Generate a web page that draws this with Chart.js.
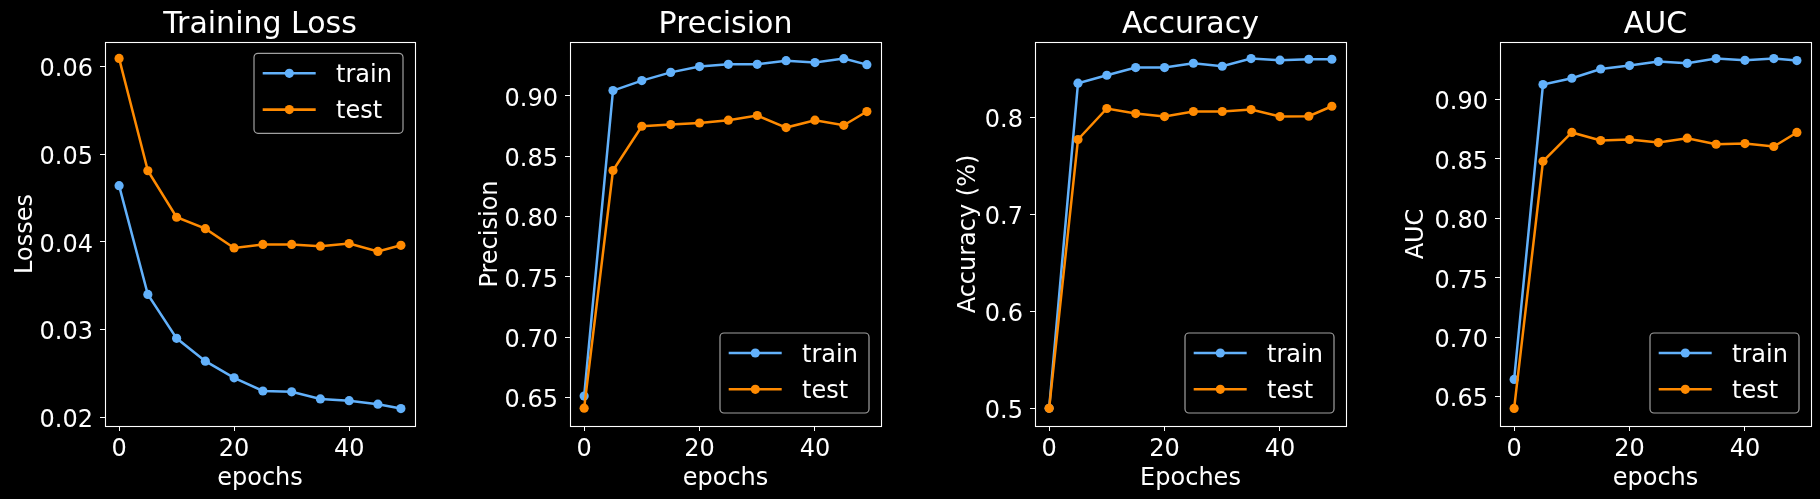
<!DOCTYPE html>
<html>
<head>
<meta charset="utf-8">
<title>Training metrics</title>
<script src="https://cdn.jsdelivr.net/npm/chart.js@4.4.0/dist/chart.umd.min.js"></script>
<style>
  html, body { margin: 0; padding: 0; background: #000; }
  #figura { position: relative; width: 1820px; height: 499px; overflow: hidden; background: #000; }
  #figura canvas { position: absolute; top: 0; }
</style>
</head>
<body>
<div id="figura">
  <canvas id="loss" width="455" height="499" style="left:0px"></canvas>
  <canvas id="precision" width="455" height="499" style="left:455px"></canvas>
  <canvas id="accuracy" width="455" height="499" style="left:910px"></canvas>
  <canvas id="auc" width="455" height="499" style="left:1365px"></canvas>
</div>
<script>
// valores
const epochs = [0, 5, 10, 15, 20, 25, 30, 35, 40, 45, 49];

const lossTrain = [0.0464, 0.0340, 0.0290, 0.0264, 0.0245, 0.0230, 0.0229, 0.0221, 0.0219, 0.0215, 0.0210];
const lossTest = [0.0609, 0.0481, 0.0428, 0.0415, 0.0393, 0.0397, 0.0397, 0.0395, 0.0398, 0.0389, 0.0396];

const precisionTrain = [0.651, 0.9045, 0.9128, 0.9196, 0.9244, 0.9263, 0.9263, 0.9293, 0.9277, 0.9310, 0.9260];
const precisionTest = [0.641, 0.8382, 0.8749, 0.8763, 0.8776, 0.8799, 0.8838, 0.8738, 0.8799, 0.8757, 0.8871];

const accuracyTrain = [0.500, 0.8354, 0.8436, 0.8515, 0.8515, 0.8560, 0.8529, 0.8608, 0.8591, 0.8601, 0.8601];
const accuracyTest = [0.500, 0.7773, 0.8093, 0.8041, 0.8010, 0.8062, 0.8062, 0.8082, 0.8010, 0.8013, 0.8116];

const aucTrain = [0.6646, 0.9126, 0.9179, 0.9257, 0.9286, 0.9320, 0.9305, 0.9345, 0.9330, 0.9345, 0.9328];
const aucTest = [0.6402, 0.8481, 0.8723, 0.8655, 0.8664, 0.8638, 0.8675, 0.8624, 0.8630, 0.8605, 0.8723];

const epochTicks = [0, 20, 40];
const lossTicks = [0.02, 0.03, 0.04, 0.05, 0.06];
const precisionTicks = [0.65, 0.70, 0.75, 0.80, 0.85, 0.90];
const accuracyTicks = [0.5, 0.6, 0.7, 0.8];
const aucTicks = [0.65, 0.70, 0.75, 0.80, 0.85, 0.90];

const seriesLabels = ['train', 'test'];

// cores e fonte
const COR_TRAIN = '#62b1fb';
const COR_TEST = '#ff8a00';
const FONTE = "'DejaVu Sans', sans-serif";

Chart.defaults.font.family = FONTE;
Chart.defaults.color = '#ffffff';

// moldura (spines) + legenda no estilo matplotlib
const molduraLegenda = {
  id: 'molduraLegenda',
  afterDatasetsDraw(chart, args, opts) {
    const { ctx, chartArea: a } = chart;
    ctx.save();
    ctx.strokeStyle = '#ffffff';
    ctx.lineWidth = 1.1;
    ctx.strokeRect(a.left + 0.5, a.top + 0.5, a.right - a.left, a.bottom - a.top);

    const w = 149, h = 80;
    const x = a.right - 12 - w;
    const y = opts.position === 'upper right' ? a.top + 11.3 : a.bottom - 13 - h;

    ctx.beginPath();
    ctx.roundRect(x, y, w, h, 4);
    ctx.fillStyle = 'rgba(0,0,0,0.8)';
    ctx.fill();
    ctx.strokeStyle = '#a0a0a0';
    ctx.lineWidth = 1.2;
    ctx.stroke();

    chart.data.datasets.forEach((ds, i) => {
      const cy = y + 20 + i * 36.3;
      ctx.strokeStyle = ds.borderColor;
      ctx.lineWidth = 2.6;
      ctx.beginPath();
      ctx.moveTo(x + 8.7, cy);
      ctx.lineTo(x + 61.7, cy);
      ctx.stroke();
      ctx.fillStyle = ds.borderColor;
      ctx.beginPath();
      ctx.arc(x + 35.3, cy, 4.6, 0, Math.PI * 2);
      ctx.fill();
      ctx.fillStyle = '#ffffff';
      ctx.font = '24px ' + FONTE;
      ctx.textAlign = 'left';
      ctx.textBaseline = 'alphabetic';
      ctx.fillText(ds.label, x + 82, cy + 8.8);
    });
    ctx.restore();
  }
};

function serie(label, valores, cor, ordem) {
  return {
    label: label,
    data: epochs.map((e, i) => ({ x: e, y: valores[i] })),
    borderColor: cor,
    backgroundColor: cor,
    borderWidth: 2.5,
    pointRadius: 4.6,
    pointBorderWidth: 0,
    pointBackgroundColor: cor,
    tension: 0,
    order: ordem
  };
}

function criarGrafico(p) {
  const canvas = document.getElementById(p.canvasId);
  return new Chart(canvas.getContext('2d'), {
    type: 'line',
    data: {
      datasets: [
        serie(seriesLabels[0], p.train, COR_TRAIN, 1),
        serie(seriesLabels[1], p.test, COR_TEST, 0)
      ]
    },
    options: {
      responsive: false,
      animation: false,
      events: [],
      layout: { padding: { left: 0, right: p.padRight, top: 0, bottom: 0 } },
      plugins: {
        legend: { display: false },
        tooltip: { enabled: false },
        title: {
          display: true,
          text: p.title,
          color: '#ffffff',
          fullSize: false,
          font: { size: 30, weight: 'normal', lineHeight: 1.1 },
          padding: { top: 9, bottom: 0 }
        },
        molduraLegenda: { position: p.legend }
      },
      scales: {
        x: {
          type: 'linear',
          min: -2.45,
          max: 51.45,
          afterBuildTicks: s => { s.ticks = epochTicks.map(v => ({ value: v })); },
          afterFit: s => { s.height = 73; },
          border: { display: false },
          grid: { drawOnChartArea: false, drawTicks: true, tickLength: 5, tickWidth: 1, color: '#ffffff' },
          ticks: { color: '#ffffff', font: { size: 24 }, padding: 3.9, autoSkip: false, maxRotation: 0, callback: v => String(v) },
          title: { display: true, text: p.xLabel, color: '#ffffff', font: { size: 24 }, padding: { top: 0, bottom: 6.3 } }
        },
        y: {
          type: 'linear',
          min: p.yMin,
          max: p.yMax,
          afterBuildTicks: s => { s.ticks = p.yTicks.map(v => ({ value: v })); },
          afterFit: s => { s.width = p.yAxisWidth; },
          border: { display: false },
          grid: { drawOnChartArea: false, drawTicks: true, tickLength: 5, tickWidth: 1, color: '#ffffff' },
          ticks: { color: '#ffffff', font: { size: 24 }, padding: 7, labelOffset: 3.5, autoSkip: false, callback: v => v.toFixed(p.decimals) },
          title: { display: true, text: p.yLabel, color: '#ffffff', font: { size: 24 }, padding: { top: p.yTitlePad, bottom: 0 } }
        }
      }
    },
    plugins: [molduraLegenda]
  });
}

const paineis = [
  { canvasId: 'loss', title: 'Training Loss', xLabel: 'epochs', yLabel: 'Losses',
    train: lossTrain, test: lossTest, yTicks: lossTicks, decimals: 2,
    yMin: 0.01901, yMax: 0.06277, legend: 'upper right',
    yAxisWidth: 105, yTitlePad: 11.4, padRight: 40 },
  { canvasId: 'precision', title: 'Precision', xLabel: 'epochs', yLabel: 'Precision',
    train: precisionTrain, test: precisionTest, yTicks: precisionTicks, decimals: 2,
    yMin: 0.6262, yMax: 0.9448, legend: 'lower right',
    yAxisWidth: 115, yTitlePad: 21.4, padRight: 29 },
  { canvasId: 'accuracy', title: 'Accuracy', xLabel: 'Epoches', yLabel: 'Accuracy (%)',
    train: accuracyTrain, test: accuracyTest, yTicks: accuracyTicks, decimals: 1,
    yMin: 0.48175, yMax: 0.8779, legend: 'lower right',
    yAxisWidth: 125, yTitlePad: 43.9, padRight: 19 },
  { canvasId: 'auc', title: 'AUC', xLabel: 'epochs', yLabel: 'AUC',
    train: aucTrain, test: aucTest, yTicks: aucTicks, decimals: 2,
    yMin: 0.6254, yMax: 0.9484, legend: 'lower right',
    yAxisWidth: 135, yTitlePad: 37.4, padRight: 9 }
];

paineis.forEach(criarGrafico);
</script>
</body>
</html>
